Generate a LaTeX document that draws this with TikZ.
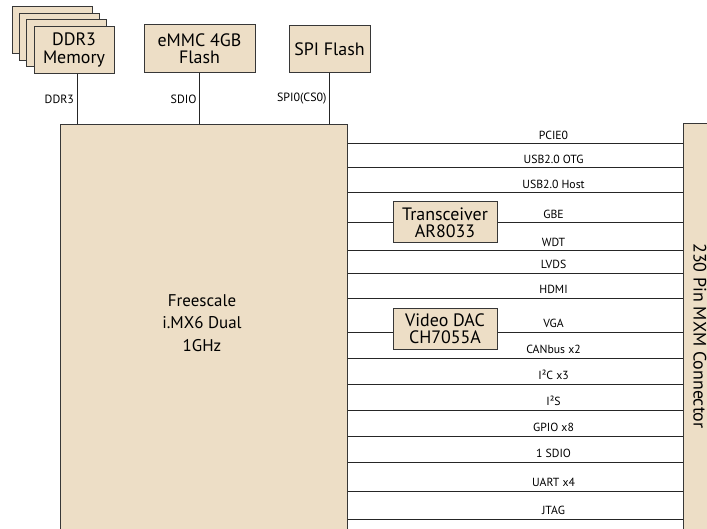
\documentclass[tikz,border=0pt]{standalone}
\usepackage{fontspec}
\setmainfont{PT Sans}
\definecolor{chipfill}{RGB}{237,222,198}
\definecolor{chipedge}{RGB}{55,55,55}
\begin{document}
\begin{tikzpicture}[
        x=1bp, y=-1bp,
        box/.style={draw=chipedge, fill=chipfill, line width=1bp, inner sep=0pt, align=center,
                font=\fontsize{18}{17.5}\selectfont},
        bus/.style={draw=black!85, line width=1bp},
        buslbl/.style={left, inner sep=2.5bp, font=\fontsize{12}{13}\selectfont},
        sig/.style={pos=0.615, anchor=base, yshift=4.5bp, inner sep=0pt, font=\fontsize{11.8}{13}\selectfont}
    ]
    \useasboundingbox (0,0) rectangle (707,529);
    \clip (0,0) rectangle (707,529);

    % memories on top
    \node[box, minimum width=80bp, minimum height=47bp] (ddrc) at (52.5,30.5) {};
    \node[box, minimum width=80bp, minimum height=47bp] (ddrb) at (59.7,37) {};
    \node[box, minimum width=80bp, minimum height=47bp] (ddra) at (66.8,43.5) {};
    \node[box, minimum width=80bp, minimum height=47bp] (ddr) at (74,50) {DDR3\\Memory};
    \node[box, minimum width=111bp, minimum height=48bp] (emmc) at (199.5,49) {eMMC 4GB\\Flash};
    \node[box, minimum width=81bp, minimum height=47bp] (spi) at (329.5,49.5) {SPI Flash};

    % processor and connector
    \node[box, minimum width=286bp, minimum height=575bp] (cpu) at (204,412.5) {};
    \node[align=center, font=\fontsize{17}{22.5}\selectfont] (cpulbl) at (202,323) {Freescale\\i.MX6 Dual\\1GHz};
    \node[box, rotate=-90, minimum width=424bp, minimum height=34bp] (mxm) at (700,336) {230 Pin MXM Connector};

    \draw[bus] ([xshift=3bp]ddr.south) -- node[buslbl] {DDR3} ([xshift=3bp]ddr.south |- cpu.north);
    \draw[bus] (emmc.south) -- node[buslbl] {SDIO} (emmc.south |- cpu.north);
    \draw[bus] (spi.south) -- node[buslbl] {SPI0(CS0)} (spi.south |- cpu.north);

    % signals to the connector
    \draw[bus] (cpu.east |- 0,144) -- node[sig] {PCIE0} (mxm.south |- 0,144);
    \draw[bus] (cpu.east |- 0,168) -- node[sig] {USB2.0 OTG} (mxm.south |- 0,168);
    \draw[bus] (cpu.east |- 0,193) -- node[sig] {USB2.0 Host} (mxm.south |- 0,193);
    \draw[bus] (cpu.east |- 0,223) -- node[sig] {GBE} (mxm.south |- 0,223);
    \draw[bus] (cpu.east |- 0,251) -- node[sig] {WDT} (mxm.south |- 0,251);
    \draw[bus] (cpu.east |- 0,273) -- node[sig] {LVDS} (mxm.south |- 0,273);
    \draw[bus] (cpu.east |- 0,298) -- node[sig] {HDMI} (mxm.south |- 0,298);
    \draw[bus] (cpu.east |- 0,332) -- node[sig] {VGA} (mxm.south |- 0,332);
    \draw[bus] (cpu.east |- 0,358) -- node[sig] {CANbus x2} (mxm.south |- 0,358);
    \draw[bus] (cpu.east |- 0,384) -- node[sig] {I²C x3} (mxm.south |- 0,384);
    \draw[bus] (cpu.east |- 0,410) -- node[sig] {I²S} (mxm.south |- 0,410);
    \draw[bus] (cpu.east |- 0,436) -- node[sig] {GPIO x8} (mxm.south |- 0,436);
    \draw[bus] (cpu.east |- 0,462) -- node[sig] {1 SDIO} (mxm.south |- 0,462);
    \draw[bus] (cpu.east |- 0,491) -- node[sig] {UART x4} (mxm.south |- 0,491);
    \draw[bus] (cpu.east |- 0,519) -- node[sig] {JTAG} (mxm.south |- 0,519);

    % chips sitting on the lines
    \node[box, minimum width=104bp, minimum height=41bp] (phy) at (445,222.5) {Transceiver\\AR8033};
    \node[box, minimum width=104bp, minimum height=41bp] (dac) at (445,328.5) {Video DAC\\CH7055A};
\end{tikzpicture}
\end{document}
